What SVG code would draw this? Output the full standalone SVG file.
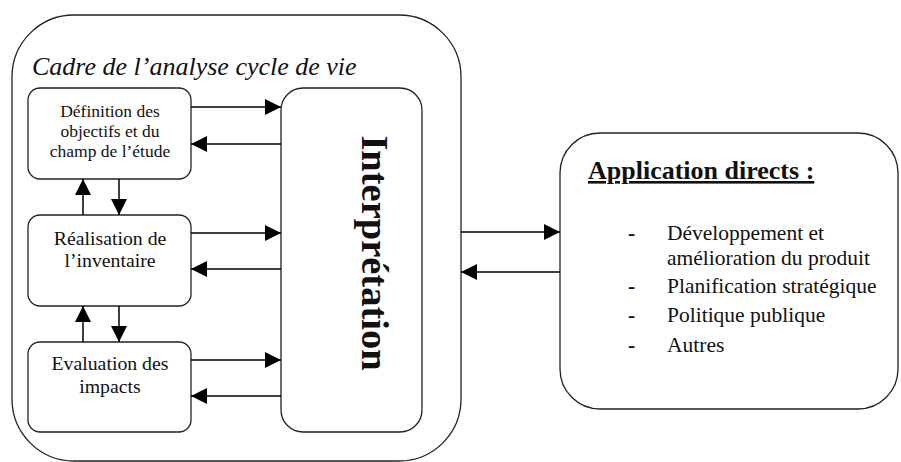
<svg xmlns="http://www.w3.org/2000/svg" width="901" height="462" viewBox="0 0 901 462">
<style>
.box{fill:#fff;stroke:#222;stroke-width:1.3}
.t{font-family:"Liberation Serif",serif;fill:#111;text-anchor:middle}
.s{font-size:17.5px}
.m{font-size:19.8px}
.c{stroke:#000;stroke-width:1.5;fill:none}
.l{font-family:"Liberation Serif",serif;fill:#111;font-size:21.5px}
.d{font-family:"Liberation Serif",serif;fill:#111;font-size:21.5px;font-weight:bold}
</style>
<defs>
<marker id="ah" viewBox="0 0 16 16" refX="16" refY="8" markerWidth="16" markerHeight="16" markerUnits="userSpaceOnUse" orient="auto">
<path d="M0,0 L16,8 L0,16 z" fill="#000"/>
</marker>
</defs>
<rect width="901" height="462" fill="#fff"/>
<g id="cadre">
<rect class="box" x="12" y="15" width="449" height="446" rx="62" ry="62"/>
<text x="32" y="75" font-family="Liberation Serif,serif" font-style="italic" font-size="26" fill="#111">Cadre de l’analyse cycle de vie</text>
</g>
<g id="definition">
<rect class="box" x="28" y="88" width="163" height="91" rx="12"/>
<text class="t s" x="110" y="117">Définition des</text>
<text class="t s" x="110" y="137">objectifs et du</text>
<text class="t s" x="110" y="157">champ de l’étude</text>
</g>
<g id="realisation">
<rect class="box" x="28" y="215" width="163" height="91" rx="12"/>
<text class="t m" x="110" y="245">Réalisation de</text>
<text class="t m" x="110" y="267">l’inventaire</text>
</g>
<g id="evaluation">
<rect class="box" x="28" y="342" width="163" height="90" rx="12"/>
<text class="t m" x="110" y="370">Evaluation des</text>
<text class="t m" x="110" y="393">impacts</text>
</g>
<g id="interpretation">
<rect class="box" x="281" y="88" width="141" height="344" rx="22"/>
<text class="t" x="0" y="0" transform="translate(362,253) rotate(90)" font-size="38.5" font-weight="bold">Interprétation</text>
</g>
<g id="application">
<rect class="box" x="560" y="133" width="338" height="276" rx="40"/>
<text x="588" y="179" font-family="Liberation Serif,serif" font-weight="bold" font-size="26" fill="#111" text-decoration="underline">Application directs :</text>
<text class="d" x="628" y="240">-</text>
<text class="l" x="667" y="240">Développement et</text>
<text class="l" x="667" y="265">amélioration du produit</text>
<text class="d" x="628" y="293">-</text>
<text class="l" x="667" y="293">Planification stratégique</text>
<text class="d" x="628" y="322">-</text>
<text class="l" x="667" y="322">Politique publique</text>
<text class="d" x="628" y="352">-</text>
<text class="l" x="667" y="352">Autres</text>
</g>
<g id="connectors">
<line class="c" x1="191" y1="107" x2="281" y2="107" marker-end="url(#ah)"/>
<line class="c" x1="281" y1="144" x2="191" y2="144" marker-end="url(#ah)"/>
<line class="c" x1="191" y1="233" x2="281" y2="233" marker-end="url(#ah)"/>
<line class="c" x1="281" y1="269" x2="191" y2="269" marker-end="url(#ah)"/>
<line class="c" x1="191" y1="360" x2="281" y2="360" marker-end="url(#ah)"/>
<line class="c" x1="281" y1="396" x2="191" y2="396" marker-end="url(#ah)"/>
<line class="c" x1="83" y1="215" x2="83" y2="179" marker-end="url(#ah)"/>
<line class="c" x1="119" y1="179" x2="119" y2="215" marker-end="url(#ah)"/>
<line class="c" x1="83" y1="342" x2="83" y2="306" marker-end="url(#ah)"/>
<line class="c" x1="119" y1="306" x2="119" y2="342" marker-end="url(#ah)"/>
<line class="c" x1="461" y1="232" x2="560" y2="232" marker-end="url(#ah)"/>
<line class="c" x1="560" y1="272" x2="461" y2="272" marker-end="url(#ah)"/>
</g>
</svg>
